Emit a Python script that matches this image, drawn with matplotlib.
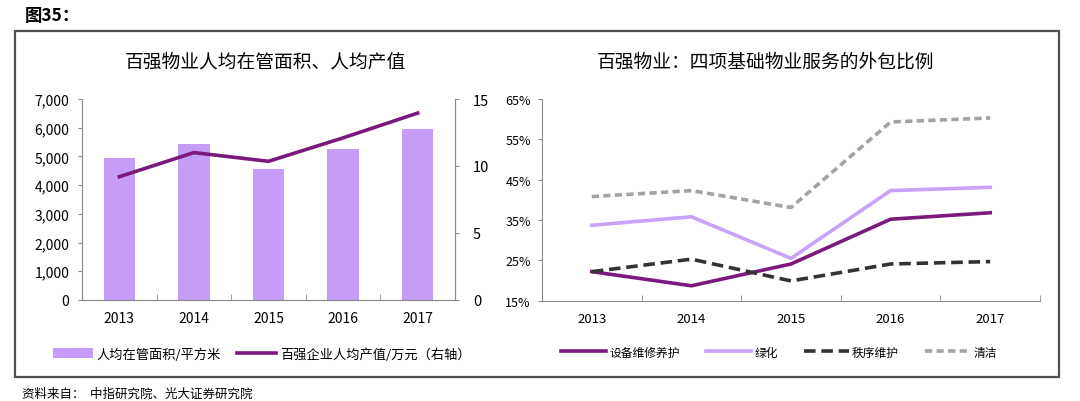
import matplotlib
matplotlib.use("Agg")
import matplotlib.pyplot as plt
from matplotlib.patches import Rectangle
import numpy as np

plt.rcParams['font.family'] = ['Noto Sans CJK SC', 'DejaVu Sans']

years = ["2013", "2014", "2015", "2016", "2017"]
area_per_person = [4930, 5420, 4560, 5270, 5940]
output_per_person = [9.2, 11.0, 10.35, 12.1, 13.95]

outsourcing_series = ["设备维修养护", "绿化", "秩序维护", "清洁"]
equip_maint = [22.2, 18.7, 24.1, 35.2, 36.8]
greening = [33.7, 35.8, 25.5, 42.3, 43.1]
security = [22.2, 25.3, 19.9, 24.1, 24.7]
cleaning = [40.8, 42.3, 38.1, 59.3, 60.3]

left_title = "百强物业人均在管面积、人均产值"
right_title = "百强物业：四项基础物业服务的外包比例"
bar_label = "人均在管面积/平方米"
line_label = "百强企业人均产值/万元（右轴）"

BAR_C = "#C59CF8"
DARK_P = "#7A1A7C"
LIGHT_P = "#C9A2FA"
DARK_G = "#333333"
GRAY = "#A3A3A3"
SPINE = "#8C8C8C"

fig = plt.figure(figsize=(10.8, 4.02), dpi=100)

# outer box
fig.patches.append(Rectangle((15/1080, 1-378/402), 1044/1080, 346/402,
                             transform=fig.transFigure, fill=False,
                             edgecolor="#505050", linewidth=1.6))
fig.text(25/1080, 1-16/402, "图35：", fontsize=12.5, fontweight="bold",
         va="center", ha="left")
fig.text(22/1080, 1-394/402, "资料来自：  中指研究院、光大证券研究院", fontsize=9,
         va="center", ha="left")

# ---- Left chart
ax1 = fig.add_axes([82/1080, 1-301/402, 373/1080, 201/402])
x = np.arange(len(years))
ax1.bar(x, area_per_person, width=0.42, color=BAR_C, label=bar_label, zorder=2)
ax1.set_xlim(-0.5, 4.5)
ax1.set_ylim(0, 7000)
ax1.set_yticks(range(0, 7001, 1000))
ax1.set_yticklabels([f"{v:,}" for v in range(0, 7001, 1000)])
ax1.set_xticks(x)
ax1.set_xticklabels(years)
ax1.set_xticks(np.arange(-0.5, 4.6, 1), minor=True)
ax1.tick_params(axis="x", which="major", length=0, pad=8)
ax1.tick_params(axis="x", which="minor", length=4, color=SPINE, direction="in")
ax1.tick_params(axis="y", length=3, color=SPINE, labelsize=10, pad=6)
ax1.tick_params(axis="x", labelsize=10)
for s in ["top"]:
    ax1.spines[s].set_visible(False)
for s in ["left", "bottom", "right"]:
    ax1.spines[s].set_color(SPINE)

ax1b = ax1.twinx()
ax1b.plot(x, output_per_person, color=DARK_P, linewidth=2.6, label=line_label, zorder=3)
ax1b.set_ylim(0, 15)
ax1b.set_yticks([0, 5, 10, 15])
ax1b.tick_params(axis="y", length=3, color=SPINE, labelsize=10.5, pad=10)
ax1b.spines["top"].set_visible(False)
for s in ["left", "bottom", "right"]:
    ax1b.spines[s].set_color(SPINE)

fig.text(265/1080, 1-62/402, left_title, fontsize=13.5, ha="center", va="center")

h1, l1 = ax1.get_legend_handles_labels()
h2, l2 = ax1b.get_legend_handles_labels()
fig.legend(h1 + h2, l1 + l2, loc="center", bbox_to_anchor=(262/1080, 1-355/402),
           ncol=2, frameon=False, fontsize=9.5, handlelength=3.0,
           handleheight=0.8, columnspacing=1.2, handletextpad=0.3)

# ---- Right chart
ax2 = fig.add_axes([542/1080, 1-301.7/402, 498/1080, 201.7/402])
ax2.plot(x, equip_maint, color=DARK_P, linewidth=2.6, label=outsourcing_series[0])
ax2.plot(x, greening, color=LIGHT_P, linewidth=2.6, label=outsourcing_series[1])
ax2.plot(x, security, color=DARK_G, linewidth=2.6, dashes=(3.2, 1.6),
         label=outsourcing_series[2])
ax2.plot(x, cleaning, color=GRAY, linewidth=2.6, dashes=(2.0, 1.2),
         label=outsourcing_series[3])
ax2.set_xlim(-0.5, 4.5)
ax2.set_ylim(15, 65)
ax2.set_yticks(range(15, 66, 10))
ax2.set_yticklabels([f"{v}%" for v in range(15, 66, 10)])
ax2.set_xticks(x)
ax2.set_xticklabels(years)
ax2.set_xticks(np.arange(-0.5, 4.6, 1), minor=True)
ax2.tick_params(axis="x", which="major", length=0, pad=8, labelsize=9.5)
ax2.tick_params(axis="x", which="minor", length=4, color=SPINE, direction="in")
ax2.tick_params(axis="y", length=3, color=SPINE, labelsize=9, pad=5)
for s in ["top", "right"]:
    ax2.spines[s].set_visible(False)
for s in ["left", "bottom"]:
    ax2.spines[s].set_color(SPINE)

fig.text(765/1080, 1-62/402, right_title, fontsize=13.5, ha="center", va="center")

fig.legend(*ax2.get_legend_handles_labels(), loc="center",
           bbox_to_anchor=(779/1080, 1-353/402), ncol=4, frameon=False,
           fontsize=8.5, handlelength=3.8, columnspacing=2.2, handletextpad=0.3)

fig.savefig("out.png", dpi=100)
